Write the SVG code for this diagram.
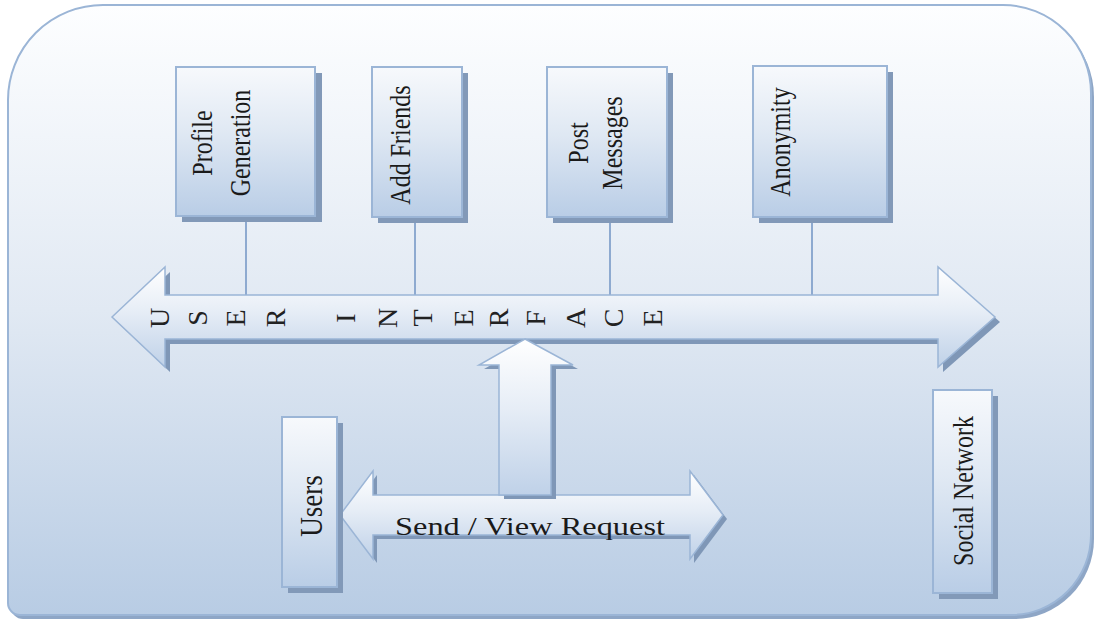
<svg xmlns="http://www.w3.org/2000/svg" width="1094" height="620" viewBox="0 0 1094 620">
<defs>
<linearGradient id="bg" x1="0" y1="0" x2="0" y2="1">
<stop offset="0" stop-color="#fdfeff"/>
<stop offset="0.5" stop-color="#e1e9f3"/>
<stop offset="1" stop-color="#b8cce4"/>
</linearGradient>
<linearGradient id="boxg" x1="0" y1="0" x2="0" y2="1">
<stop offset="0" stop-color="#f7f9fc"/>
<stop offset="0.45" stop-color="#dfe8f3"/>
<stop offset="1" stop-color="#b9cde6"/>
</linearGradient>
<linearGradient id="arrg" x1="0" y1="0" x2="0" y2="1">
<stop offset="0" stop-color="#ffffff"/>
<stop offset="0.45" stop-color="#e6edf6"/>
<stop offset="1" stop-color="#bfd1e8"/>
</linearGradient>
<style>
.box{fill:url(#boxg);stroke:#9bb5d6;stroke-width:2}
.shd{fill:#8299b8}
.arr{fill:url(#arrg);stroke:#9bb5d6;stroke-width:1.5}
.ash{fill:#7f97b7}
.conn{stroke:#8eaad0;stroke-width:2;fill:none}
.t{font-family:"Liberation Serif","Times New Roman",serif;fill:#1a1a1a;font-size:24px;text-anchor:middle}
text.l{font-family:"Liberation Serif","Times New Roman",serif;fill:#222;font-size:28px;text-anchor:middle}
</style>
</defs>

<g id="background">
<path d="M 11,104 A 95 95 0 0 1 106 9 H 1006 A 88 88 0 0 1 1094 97 V 539 A 80 80 0 0 1 1014 619 H 23 A 12 12 0 0 1 11 607 Z" fill="#8ea6c6"/>
<path d="M 8,100 A 95 95 0 0 1 103 5 H 1003 A 88 88 0 0 1 1091 93 V 535 A 80 80 0 0 1 1011 615 H 20 A 12 12 0 0 1 8 603 Z" fill="url(#bg)" stroke="#9bb5d6" stroke-width="2"/>
</g>

<g id="connectors">
<line class="conn" x1="246" y1="216" x2="246" y2="295"/>
<line class="conn" x1="415" y1="218" x2="415" y2="295"/>
<line class="conn" x1="610" y1="218" x2="610" y2="295"/>
<line class="conn" x1="812" y1="218" x2="812" y2="295"/>
</g>

<g id="profile-generation">
<rect class="shd" x="182" y="73" width="140" height="149"/>
<rect class="box" x="176" y="67" width="139" height="149"/>
<text class="t" transform="translate(212,143) scale(1.2,1) rotate(-90)">Profile</text>
<text class="t" transform="translate(250,143) scale(1.2,1) rotate(-90)">Generation</text>
</g>

<g id="add-friends">
<rect class="shd" x="378" y="73" width="90" height="150"/>
<rect class="box" x="372" y="67" width="90" height="150"/>
<text class="t" transform="translate(410,145) scale(1.2,1) rotate(-90)">Add Friends</text>
</g>

<g id="post-messages">
<rect class="shd" x="553" y="73" width="120" height="150"/>
<rect class="box" x="547" y="67" width="120" height="150"/>
<text class="t" transform="translate(588,143) scale(1.2,1) rotate(-90)">Post</text>
<text class="t" transform="translate(622,143) scale(1.2,1) rotate(-90)">Messages</text>
</g>

<g id="anonymity">
<rect class="shd" x="759" y="72" width="134" height="151"/>
<rect class="box" x="753" y="66" width="134" height="151"/>
<text class="t" transform="translate(790,142) scale(1.2,1) rotate(-90)">Anonymity</text>
</g>

<g id="user-interface">
<polygon class="ash" points="117,322 170,272 170,300 943,300 943,272 1000,322 943,372 943,344 170,344 170,372"/>
<polygon class="arr" points="112,317 165,267 165,295 938,295 938,267 995,317 938,367 938,339 165,339 165,367"/>
<text class="l" transform="translate(160,318) rotate(-90)" y="8.5">U</text>
<text class="l" transform="translate(198,318) rotate(-90)" y="8.5">S</text>
<text class="l" transform="translate(236,318) rotate(-90)" y="8.5">E</text>
<text class="l" transform="translate(276,318) rotate(-90)" y="8.5">R</text>
<text class="l" transform="translate(346,318) rotate(-90)" y="8.5">I</text>
<text class="l" transform="translate(388,318) rotate(-90)" y="8.5">N</text>
<text class="l" transform="translate(423,318) rotate(-90)" y="8.5">T</text>
<text class="l" transform="translate(464,318) rotate(-90)" y="8.5">E</text>
<text class="l" transform="translate(499,318) rotate(-90)" y="8.5">R</text>
<text class="l" transform="translate(536,318) rotate(-90)" y="8.5">F</text>
<text class="l" transform="translate(576,318) rotate(-90)" y="8.5">A</text>
<text class="l" transform="translate(614,318) rotate(-90)" y="8.5">C</text>
<text class="l" transform="translate(653,318) rotate(-90)" y="8.5">E</text>
</g>

<g id="send-view-request">
<polygon class="ash" points="344,519 377,475 377,499 694,499 694,475 727,519 694,563 694,539 377,539 377,563"/>
<polygon class="arr" points="340,515 373,471 373,495 690,495 690,471 723,515 690,559 690,535 373,535 373,559"/>
<text x="530" y="535" textLength="270" lengthAdjust="spacingAndGlyphs" style="font-family:'Liberation Serif','Times New Roman',serif;font-size:25.5px;fill:#1a1a1a;text-anchor:middle">Send / View Request</text>
</g>

<g id="up-arrow">
<polygon class="ash" points="530,343 578,369 556,369 556,499 504,499 504,369 484,369"/>
<polygon class="arr" points="525,339 573,365 551,365 551,495 499,495 499,365 479,365"/>
</g>

<g id="users">
<rect class="shd" x="288" y="423" width="55" height="170"/>
<rect class="box" x="282" y="417" width="55" height="170"/>
<text class="t" style="font-size:27px" transform="translate(322,506) scale(1.2,1) rotate(-90)">Users</text>
</g>

<g id="social-network">
<rect class="shd" x="939" y="396" width="59" height="203"/>
<rect class="box" x="933" y="390" width="59" height="203"/>
<text class="t" transform="translate(973,491) scale(1.2,1) rotate(-90)">Social Network</text>
</g>
</svg>
